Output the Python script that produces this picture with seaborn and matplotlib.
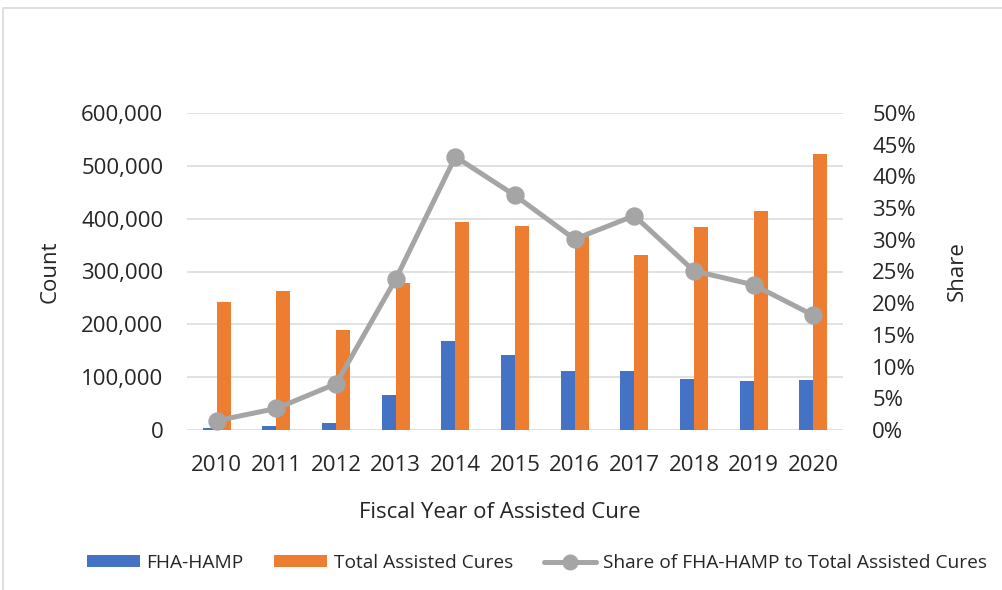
import matplotlib
matplotlib.use("Agg")
import matplotlib.pyplot as plt
import seaborn as sns
import numpy as np
import pandas as pd
from matplotlib.ticker import PercentFormatter, FuncFormatter, MultipleLocator
from matplotlib.patches import Patch, Rectangle
from matplotlib.lines import Line2D

years = ["2010", "2011", "2012", "2013", "2014", "2015", "2016", "2017", "2018", "2019", "2020"]
fha_hamp = [3000, 7500, 12600, 65600, 168500, 142000, 111000, 111000, 96000, 93500, 94000]
total_cures = [242000, 263000, 189000, 278000, 393000, 387000, 369000, 331500, 384500, 415000, 522700]
share = [0.0147, 0.034, 0.073, 0.238, 0.431, 0.370, 0.301, 0.338, 0.251, 0.229, 0.181]

series_names = ["FHA-HAMP", "Total Assisted Cures", "Share of FHA-HAMP to Total Assisted Cures"]
BLUE, ORANGE, GRAY = "#4472C4", "#ED7D31", "#A5A5A5"
TXT = "#262626"

sns.set_theme(style="white")
plt.rcParams["font.family"] = ["Open Sans", "DejaVu Sans"]

bars = pd.DataFrame({
    "year": years * 2,
    "count": fha_hamp + total_cures,
    "series": [series_names[0]] * len(years) + [series_names[1]] * len(years),
})
line = pd.DataFrame({"year": years, "share": share})

fig = plt.figure(figsize=(10.03, 5.90), dpi=100)
W, H = 1003, 590
ax = fig.add_axes([187 / W, 1 - 430 / H, (843 - 187) / W, (430 - 113) / H])

sns.barplot(data=bars, x="year", y="count", hue="series", palette=[BLUE, ORANGE],
            saturation=1, width=0.47, gap=0, linewidth=0, ax=ax, legend=False, zorder=2)
ax.set_ylim(0, 600000)
ax.yaxis.set_major_locator(MultipleLocator(100000))
ax.yaxis.set_major_formatter(FuncFormatter(lambda v, p: f"{v:,.0f}"))
ax.grid(axis="y", color="#D9D9D9", linewidth=1.1, zorder=0)
ax.set_axisbelow(True)
for s in ax.spines.values():
    s.set_visible(False)
ax.tick_params(axis="both", length=0, labelsize=16, colors=TXT)
ax.tick_params(axis="y", pad=17)
ax.tick_params(axis="x", pad=18)
ax.set_ylabel("Count", fontsize=16, color=TXT, labelpad=15)
ax.set_xlabel("Fiscal Year of Assisted Cure", fontsize=16, color=TXT, va="center")
ax.xaxis.set_label_coords((500 - 187) / (843 - 187), -(513 - 430) / (430 - 113), transform=ax.transAxes)

ax2 = ax.twinx()
sns.pointplot(data=line, x="year", y="share", ax=ax2, color=GRAY, markers="o",
              linestyles="-", errorbar=None, markersize=10.5, linewidth=3.6)
ax2.set_ylim(0, 0.5)
ax2.yaxis.set_major_locator(MultipleLocator(0.05))
ax2.yaxis.set_major_formatter(PercentFormatter(1.0, decimals=0))
for s in ax2.spines.values():
    s.set_visible(False)
ax2.tick_params(axis="y", length=0, labelsize=16, colors=TXT, pad=21)
ax2.set_ylabel("Share", fontsize=16, color=TXT, labelpad=22)
ax2.grid(False)
ax.set_xlim(-0.5, len(years) - 0.5)
ax2.set_xlim(-0.5, len(years) - 0.5)

handles = [
    Patch(facecolor=BLUE, edgecolor="none"),
    Patch(facecolor=ORANGE, edgecolor="none"),
    Line2D([0], [0], color=GRAY, linewidth=3.6, marker="o", markersize=10.5),
]
leg = fig.legend(handles, series_names, loc="center", ncol=3,
                 bbox_to_anchor=(537 / W, 1 - 563 / H), frameon=False,
                 fontsize=13.8, handlelength=2.75, handleheight=0.6,
                 handletextpad=0.35, columnspacing=1.6, labelcolor=TXT)

fig.patches.append(Rectangle((3 / W, -0.1), 1.2, 1 - 8 / H + 0.1, transform=fig.transFigure,
                             fill=False, edgecolor="#D9D9D9", linewidth=1.2, zorder=0))

fig.savefig("out.png", dpi=100)
